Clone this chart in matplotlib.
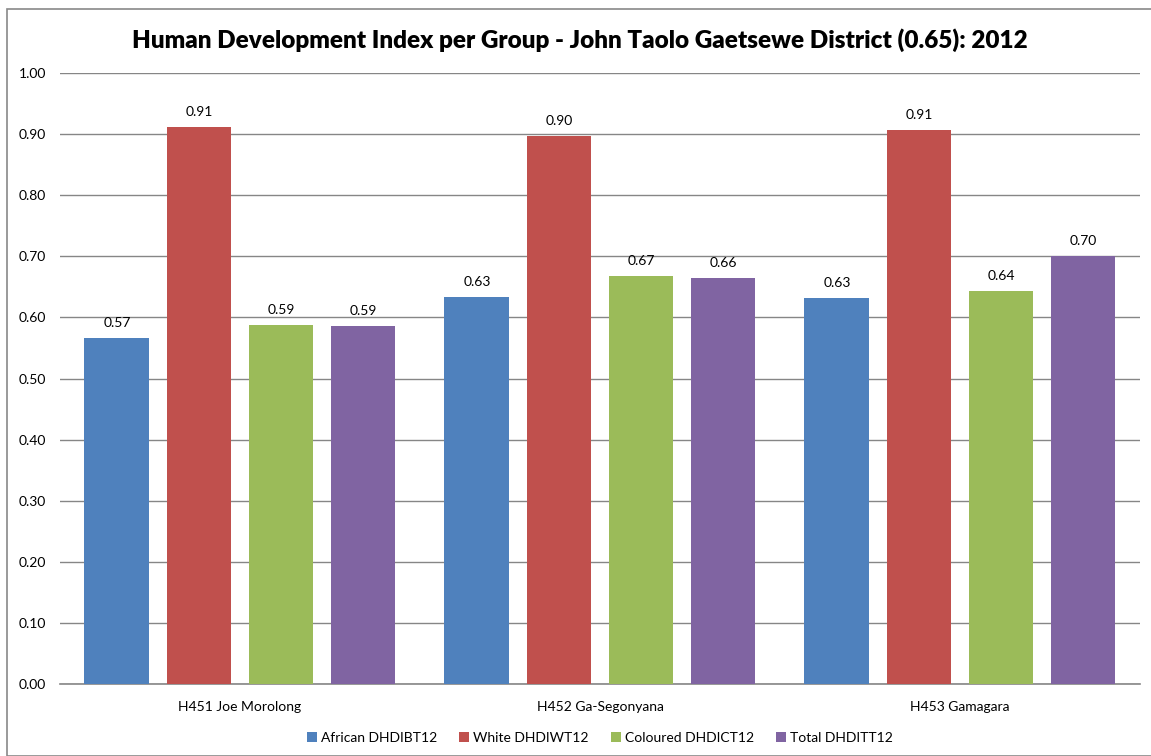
import numpy as np
import matplotlib.pyplot as plt
from matplotlib.patches import Rectangle

plt.rcParams["font.family"] = ["Lato", "DejaVu Sans"]

categories = ["H451 Joe Morolong", "H452 Ga-Segonyana", "H453 Gamagara"]
series_names = ["African DHDIBT12", "White DHDIWT12", "Coloured DHDICT12", "Total DHDITT12"]
african = [0.566, 0.634, 0.632]
white = [0.912, 0.897, 0.907]
coloured = [0.588, 0.668, 0.644]
total = [0.586, 0.664, 0.700]
colors = ["#4F81BD", "#C0504D", "#9BBB59", "#8064A2"]
title = "Human Development Index per Group - John Taolo Gaetsewe District (0.65): 2012"

fig = plt.figure(figsize=(11.51, 7.56), dpi=100)
ax = fig.add_axes([0.0521, 0.0952, 0.9383, 0.8082])

# chart area frame
fig.patches.append(Rectangle((7 / 1151, 0.0), 1.2, 1 - 9 / 756, transform=fig.transFigure,
                             fill=False, edgecolor="#898989", linewidth=1.2))

x = np.arange(len(categories))
width = 0.18
step = 0.228
for i, (vals, name) in enumerate(zip([african, white, coloured, total], series_names)):
    pos = x + (i - 1.5) * step
    bars = ax.bar(pos, vals, width, color=colors[i], label=name, zorder=3)
    for b, v in zip(bars, vals):
        ax.annotate(f"{v:.2f}", (b.get_x() + b.get_width() / 2, v), xytext=(0, 6.5),
                    textcoords="offset points", ha="center", va="bottom", fontsize=10)

ax.set_xlim(-0.5, len(categories) - 0.5)
ax.set_ylim(0, 1.0)
ax.set_yticks(np.arange(0, 1.01, 0.1))
ax.set_yticklabels([f"{t:.2f}" for t in np.arange(0, 1.01, 0.1)])
ax.set_xticks(x)
ax.set_xticklabels(categories)
ax.tick_params(axis="both", length=0, labelsize=10, pad=10)
ax.tick_params(axis="x", pad=12)
ax.yaxis.grid(True, color="#868686", linewidth=1, zorder=0)
ax.set_axisbelow(True)
for s in ["top", "right", "left"]:
    ax.spines[s].set_visible(False)
ax.spines["bottom"].set_color("#868686")
ax.spines["bottom"].set_linewidth(1.2)

fig.text(0.504, 1 - 40 / 756, title, ha="center", va="center", fontsize=17.5, fontweight="heavy")

ax.legend(loc="center", bbox_to_anchor=(0.5, -0.088), ncol=4, frameon=False, fontsize=10,
          handlelength=0.7, handleheight=0.7, handletextpad=0.3, columnspacing=1.6)

fig.savefig("out.png", dpi=100)
